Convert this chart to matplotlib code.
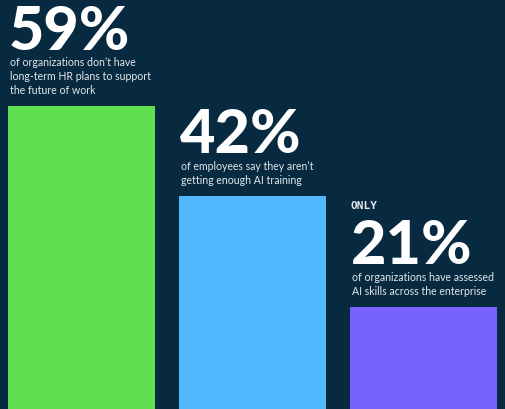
import matplotlib
matplotlib.use('Agg')
import matplotlib.pyplot as plt

# data
values = [59, 42, 21]
big_labels = ['59%', '42%', '21%']
prefixes = ['', '', 'ONLY']
descriptions = [
    "of organizations don\u2019t have\nlong-term HR plans to support\nthe future of work",
    "of employees say they aren\u2019t\ngetting enough AI training",
    "of organizations have assessed\nAI skills across the enterprise",
]
colors = ['#5fde4e', '#52b8fe', '#7862fe']
bg = '#072a40'

fig = plt.figure(figsize=(5.06, 4.10), dpi=100, facecolor=bg)
ax = fig.add_axes([0, 0, 1, 1])
ax.set_facecolor(bg)

x = list(range(len(values)))
width = 0.86
ax.bar(x, values, width=width, color=colors, zorder=2)

ax.set_xlim(-81.5 / 171, (506 - 81.5) / 171)
ax.set_ylim(1.74, 79.24)
ax.axis('off')

for i, v in enumerate(values):
    left = x[i] - width / 2
    nlines = descriptions[i].count('\n') + 1
    # description block sits just above the bar
    ax.annotate(descriptions[i], xy=(left, v), xytext=(2, 11),
                textcoords='offset pixels', ha='left', va='bottom',
                fontsize=7.6, color='#e3e7eb', family='Lato',
                linespacing=1.36)
    base = 19 + 12.7 * nlines
    ax.annotate(big_labels[i], xy=(left, v), xytext=(1, base),
                textcoords='offset pixels', ha='left', va='baseline',
                fontsize=44, fontweight='black', color='white',
                family='Lato')
    if prefixes[i]:
        ax.annotate(prefixes[i], xy=(left, v), xytext=(1, base + 55),
                    textcoords='offset pixels', ha='left', va='baseline',
                    fontsize=8, fontweight='bold', color='#e3e7eb',
                    family='DejaVu Sans Mono')

fig.savefig('out.png', dpi=100, facecolor=bg)
